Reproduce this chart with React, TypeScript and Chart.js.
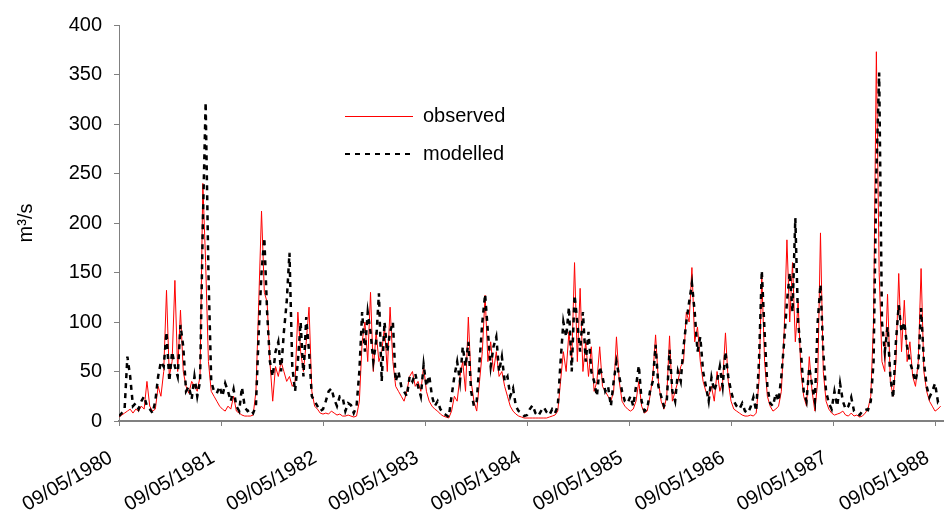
import React, { useEffect, useRef } from 'react';
import { Chart, registerables } from 'chart.js';

Chart.register(...registerables);

// ---- data ----
const START_DATE = '1980-05-09';
const STEP_DAYS = 10;
const END_DAY = 2952;

const tickDates = ['1980-05-09', '1981-05-09', '1982-05-09', '1983-05-09', '1984-05-09', '1985-05-09', '1986-05-09', '1987-05-09', '1988-05-09'];
const tickLabels = ['09/05/1980', '09/05/1981', '09/05/1982', '09/05/1983', '09/05/1984', '09/05/1985', '09/05/1986', '09/05/1987', '09/05/1988'];

const seriesNames = ['observed', 'modelled'];

// flow sampled every STEP_DAYS days from START_DATE (m3/s)
const observed = [
  4, 6, 8, 10, 12, 8, 12, 10, 15, 12, 40, 15, 10, 12, 35, 25, 50, 132, 45, 60, 142, 50, 112, 50, 35, 28, 40, 35, 30, 45, 240, 160, 60, 30, 25, 20, 15,
  12, 10, 15, 12, 25, 10, 8, 6, 5, 5, 5, 6, 30, 120, 212, 130, 120, 60, 20, 55, 45, 60, 50, 40, 45, 35, 40, 110, 70, 50, 80, 115, 30, 15, 12, 8, 7,
  8, 7, 10, 8, 6, 7, 5, 5, 6, 5, 4, 5, 20, 80, 100, 60, 130, 50, 90, 60, 70, 95, 50, 115, 60, 35, 30, 25, 20, 30, 45, 50, 35, 40, 30, 55, 30,
  20, 15, 12, 10, 7, 5, 4, 3, 10, 25, 20, 45, 60, 30, 105, 40, 20, 10, 40, 70, 127, 60, 80, 50, 70, 45, 50, 35, 25, 15, 10, 7, 5, 4, 3, 3,
  3, 3, 3, 3, 3, 3, 3, 4, 5, 6, 10, 40, 70, 50, 90, 60, 160, 60, 134, 50, 80, 45, 75, 30, 40, 75, 35, 30, 25, 20, 30, 85, 40, 20, 15, 12,
  10, 12, 20, 40, 15, 8, 10, 25, 45, 87, 40, 20, 12, 25, 86, 20, 30, 40, 55, 60, 110, 100, 155, 80, 95, 60, 40, 30, 25, 35, 20, 50, 30, 40, 89, 40, 20,
  12, 10, 8, 6, 5, 5, 6, 5, 8, 40, 147, 60, 25, 15, 10, 12, 15, 30, 90, 183, 100, 160, 80, 120, 50, 25, 15, 65, 30, 10, 40, 190, 50, 20, 12, 8,
  6, 7, 8, 10, 6, 5, 8, 5, 6, 4, 5, 8, 12, 25, 100, 373, 150, 60, 50, 128, 40, 25, 60, 149, 70, 122, 60, 80, 45, 35, 60, 154, 50, 30, 20, 15, 10, 12, 15,
];

const modelled = [
  5, 8, 12, 65, 45, 15, 18, 12, 20, 25, 15, 12, 8, 20, 45, 60, 55, 90, 40, 70, 55, 45, 97, 75, 30, 35, 22, 45, 25, 40, 200, 322, 150, 40, 30, 28, 35,
  25, 38, 30, 20, 32, 15, 10, 34, 14, 10, 12, 8, 15, 90, 150, 185, 110, 60, 45, 70, 80, 50, 90, 120, 170, 55, 30, 60, 100, 45, 105, 70, 25, 20, 15, 10, 12,
  20, 30, 33, 22, 15, 25, 24, 10, 18, 16, 8, 15, 50, 110, 70, 110, 90, 60, 80, 129, 40, 100, 70, 90, 100, 40, 50, 35, 30, 25, 45, 40, 48, 35, 25, 57, 35,
  46, 25, 15, 20, 12, 8, 6, 4, 25, 45, 60, 40, 75, 55, 80, 30, 15, 20, 60, 100, 128, 90, 55, 75, 85, 50, 65, 40, 45, 25, 33, 15, 10, 8, 5, 6,
  12, 16, 8, 5, 10, 14, 9, 6, 12, 8, 15, 60, 100, 85, 115, 50, 127, 100, 70, 110, 60, 90, 50, 40, 25, 55, 45, 30, 35, 15, 40, 60, 45, 30, 20, 18,
  25, 15, 35, 56, 20, 10, 12, 30, 40, 77, 35, 25, 15, 20, 72, 30, 20, 50, 40, 75, 100, 120, 139, 110, 70, 85, 50, 35, 20, 44, 30, 40, 55, 35, 70, 45, 30,
  20, 15, 12, 18, 10, 8, 14, 24, 10, 60, 152, 90, 35, 18, 15, 28, 20, 45, 80, 120, 150, 110, 205, 100, 70, 30, 20, 54, 36, 20, 100, 138, 70, 30, 18, 12,
  30, 15, 38, 20, 12, 15, 24, 10, 8, 6, 10, 12, 11, 20, 60, 250, 352, 100, 70, 95, 45, 23, 80, 117, 90, 100, 75, 60, 50, 40, 55, 114, 60, 35, 24, 30, 38, 20, 25,
];

const seriesColors = ['#ff0000', '#000000'];

// ---- helpers ----
const DAY_MS = 86400000;
const dayOffset = (iso: string) => Math.round((Date.parse(iso) - Date.parse(START_DATE)) / DAY_MS);
const tickDays = tickDates.map(dayOffset);
const toPoints = (arr: number[]) => arr.map((v, i) => ({ x: i * STEP_DAYS, y: v }));

const FONT = "'Liberation Sans', Arial, Helvetica, sans-serif";

const legendPlugin = {
  id: 'insideLegend',
  afterDraw(chart: any) {
    const { ctx, chartArea } = chart;
    const x0 = chartArea.left + 226;
    const x1 = chartArea.left + 294;
    const rows = [chartArea.top + 91.5, chartArea.top + 129];
    ctx.save();
    chart.data.datasets.forEach((ds: any, i: number) => {
      const y = rows[i];
      ctx.strokeStyle = ds.borderColor;
      ctx.lineWidth = i === 0 ? 1 : 2;
      ctx.setLineDash(ds.borderDash || []);
      ctx.beginPath();
      ctx.moveTo(x0, y);
      ctx.lineTo(x1, y);
      ctx.stroke();
      ctx.setLineDash([]);
      ctx.fillStyle = '#000';
      ctx.font = `20px ${FONT}`;
      ctx.textBaseline = 'middle';
      ctx.textAlign = 'left';
      ctx.fillText(ds.label, x1 + 10, y);
    });
    ctx.restore();
  },
};

export default function App() {
  const ref = useRef<HTMLCanvasElement | null>(null);

  useEffect(() => {
    if (!ref.current) return;
    Chart.defaults.font.family = FONT;
    const chart = new Chart(ref.current, {
      type: 'line',
      data: {
        datasets: [
          {
            label: seriesNames[0],
            data: toPoints(observed),
            borderColor: seriesColors[0],
            borderWidth: 1,
            pointRadius: 0,
            tension: 0,
            fill: false,
            order: 1,
          },
          {
            label: seriesNames[1],
            data: toPoints(modelled),
            borderColor: seriesColors[1],
            borderWidth: 2.5,
            borderDash: [5, 5],
            pointRadius: 0,
            tension: 0,
            fill: false,
            order: 0,
          },
        ],
      },
      options: {
        animation: false,
        responsive: false,
        devicePixelRatio: 1,
        layout: { padding: { top: 25, left: 0, right: 0, bottom: 0 } },
        plugins: { legend: { display: false }, tooltip: { enabled: false } },
        scales: {
          x: {
            type: 'linear',
            min: 0,
            max: END_DAY,
            afterBuildTicks: (scale: any) => {
              scale.ticks = tickDays.map((v) => ({ value: v }));
            },
            afterFit: (scale: any) => {
              scale.height = 93;
              scale.paddingLeft = 0;
              scale.paddingRight = 0;
            },
            ticks: {
              autoSkip: false,
              maxRotation: 30,
              minRotation: 30,
              padding: 20,
              labelOffset: -8,
              color: '#000',
              font: { size: 20, family: FONT },
              callback: (v: any) => {
                const idx = tickDays.indexOf(Number(v));
                return idx >= 0 ? tickLabels[idx] : '';
              },
            },
            grid: { drawOnChartArea: false, drawTicks: true, tickLength: 5, color: '#808080' },
            border: { display: true, color: '#808080', width: 2 },
          },
          y: {
            min: 0,
            max: 400,
            afterFit: (scale: any) => {
              scale.width = 119;
            },
            ticks: { stepSize: 50, padding: 12, color: '#000', font: { size: 20, family: FONT } },
            grid: { drawOnChartArea: false, drawTicks: true, tickLength: 5, color: '#808080' },
            border: { display: true, color: '#808080', width: 1 },
            title: {
              display: true,
              text: 'm³/s',
              color: '#000',
              font: { size: 20, family: FONT },
              padding: { top: 14, bottom: 0 },
            },
          },
        },
      },
      plugins: [legendPlugin],
    } as any);
    return () => chart.destroy();
  }, []);

  return (
    <div style={{ position: 'absolute', left: 0, top: 0, width: 944, height: 514 }}>
      <canvas ref={ref} width={944} height={514} style={{ display: 'block' }} />
    </div>
  );
}
